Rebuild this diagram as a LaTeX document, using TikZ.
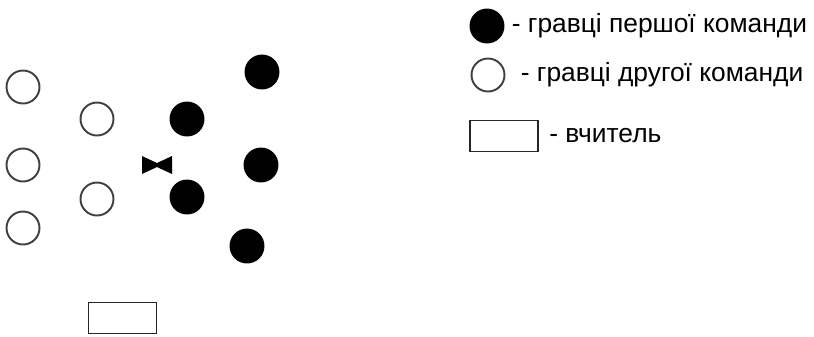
\documentclass[tikz,border=0pt]{standalone}
\usepackage{fontspec}
\setmainfont{Liberation Sans}
\usetikzlibrary{positioning}

\begin{document}
\begin{tikzpicture}[x=0.02cm,y=-0.02cm,
  node distance=0.2cm,
  pl/.style={circle,minimum size=0.66cm,inner sep=0pt,line width=1.1pt},
  blackpl/.style={pl,draw=black,fill=black},
  whitepl/.style={pl,draw=black!75,fill=white},
  teacher/.style={draw=black!85,line width=1.1pt,minimum width=1.36cm,minimum height=0.62cm,inner sep=0pt},
  lbl/.style={font=\fontsize{15}{17}\selectfont,inner sep=0pt,anchor=west}]
  \useasboundingbox (0,0) rectangle (814,336);
  \node[whitepl] (w1) at (23,87) {};
  \node[whitepl] (w2) at (23,165) {};
  \node[whitepl] (w3) at (23,228) {};
  \node[whitepl] (w4) at (97,119) {};
  \node[whitepl] (w5) at (97,199) {};
  \node[blackpl] (b1) at (187,119) {};
  \node[blackpl] (b2) at (187,197) {};
  \node[blackpl] (b3) at (262,72) {};
  \node[blackpl] (b4) at (261,165) {};
  \node[blackpl] (b5) at (247,246) {};
  \node[teacher] (t) at (122.5,318) {};
  \fill (142,156) -- (157,163) -- (172,156) -- (172,174) -- (157,167) -- (142,174) -- cycle;
  \node[blackpl] (lb) at (487,26) {};
  \node[lbl,right=0.14cm of lb] (lbt) {- гравці першої команди};
  \node[whitepl] (lw) at (488,75) {};
  \node[lbl,right=0.3cm of lw] (lwt) {- гравці другої команди};
  \node[teacher] (lt) at (504,136) {};
  \node[lbl,right=0.2cm of lt] (ltt) {- вчитель};
\end{tikzpicture}
\end{document}
